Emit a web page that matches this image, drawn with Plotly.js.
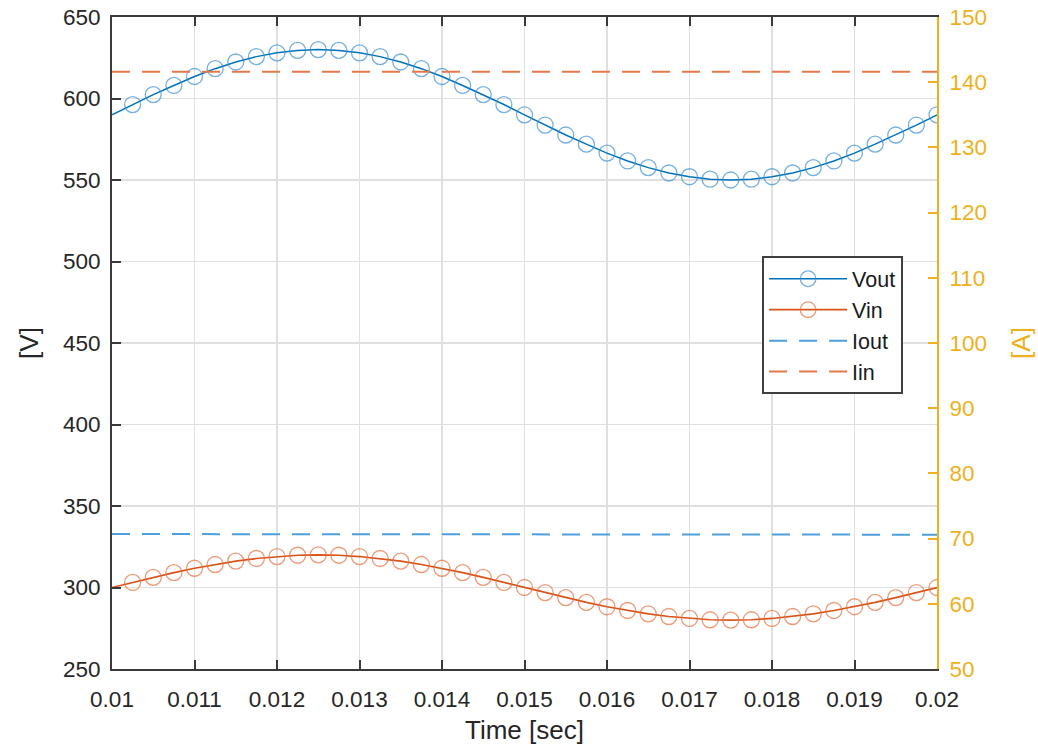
<!DOCTYPE html>
<html>
<head>
<meta charset="utf-8">
<script src="https://cdn.plot.ly/plotly-3.0.1.min.js"></script>
<style>html,body{margin:0;padding:0;background:#fff;}#chart{width:1038px;height:752px;}</style>
</head>
<body>
<div id="chart"></div>
<script>
// Time samples [sec]
var time = [0.01, 0.01025, 0.0105, 0.01075, 0.011, 0.01125, 0.0115, 0.01175, 0.012, 0.01225,
            0.0125, 0.01275, 0.013, 0.01325, 0.0135, 0.01375, 0.014, 0.01425, 0.0145, 0.01475,
            0.015, 0.01525, 0.0155, 0.01575, 0.016, 0.01625, 0.0165, 0.01675, 0.017, 0.01725,
            0.0175, 0.01775, 0.018, 0.01825, 0.0185, 0.01875, 0.019, 0.01925, 0.0195, 0.01975, 0.02];
// Output voltage [V]
var vout = [590.0, 596.3, 602.4, 608.0, 613.5, 618.3, 622.4, 625.7, 628.0, 629.5,
            630.0, 629.5, 628.0, 625.7, 622.4, 618.3, 613.5, 608.0, 602.4, 596.3,
            590.0, 583.7, 577.6, 572.0, 566.5, 561.7, 557.6, 554.3, 552.0, 550.5,
            550.0, 550.5, 552.0, 554.3, 557.6, 561.7, 566.5, 572.0, 577.6, 583.7, 590.0];
// Input voltage [V]
var vin = [300.0, 303.1, 306.2, 309.1, 311.8, 314.1, 316.2, 317.8, 319.0, 319.8,
           320.0, 319.8, 319.0, 317.8, 316.2, 314.1, 311.8, 309.1, 306.2, 303.1,
           300.0, 296.9, 293.8, 290.9, 288.2, 285.9, 283.8, 282.2, 281.0, 280.2,
           280.0, 280.2, 281.0, 282.2, 283.8, 285.9, 288.2, 290.9, 293.8, 296.9, 300.0];
// Currents [A]
var timeI = [0.01, 0.0155, 0.02];
var iout = [70.7, 70.6, 70.6];
var iin = [141.6, 141.6, 141.6];

var xTicks = [0.01, 0.011, 0.012, 0.013, 0.014, 0.015, 0.016, 0.017, 0.018, 0.019, 0.02];
var xTickText = ["0.01", "0.011", "0.012", "0.013", "0.014", "0.015", "0.016", "0.017", "0.018", "0.019", "0.02"];

var cBlue = '#0072BD', cOrange = '#D95319', cGold = '#EDB120', cAxis = '#262626';
var FONT = '"Liberation Sans", Arial, Helvetica, sans-serif';

// hide the marker on the first sample (line starts there without a marker)
function markerSizes(n) { var s = []; for (var i = 0; i < n; i++) s.push(i === 0 ? 0 : 16); return s; }

var traces = [
  {x: time, y: vout, name: 'Vout', type: 'scatter', mode: 'lines+markers', yaxis: 'y',
   line: {color: cBlue, width: 1.5},
   marker: {symbol: 'circle-open', size: markerSizes(time.length), color: '#3b8fd2', line: {width: 1.3, color: '#3b8fd2'}}},
  {x: time, y: vin, name: 'Vin', type: 'scatter', mode: 'lines+markers', yaxis: 'y',
   line: {color: cOrange, width: 1.7},
   marker: {symbol: 'circle-open', size: markerSizes(time.length), color: '#e2703f', line: {width: 1.3, color: '#e2703f'}}},
  {x: timeI, y: iout, name: 'Iout', type: 'scatter', mode: 'lines', yaxis: 'y2',
   line: {color: '#4c9fdc', width: 2, dash: '18px,12px'}},
  {x: timeI, y: iin, name: 'Iin', type: 'scatter', mode: 'lines', yaxis: 'y2',
   line: {color: '#e5784a', width: 2, dash: '18px,12px'}}
];

var layout = {
  width: 1038, height: 752,
  margin: {l: 112, r: 101, t: 17, b: 83, pad: 0},
  paper_bgcolor: '#ffffff', plot_bgcolor: '#ffffff',
  font: {family: FONT, size: 23, color: cAxis},
  showlegend: true,
  legend: {x: 0.788, y: 0.633, xanchor: 'left', yanchor: 'top',
           bgcolor: '#ffffff', bordercolor: '#404040', borderwidth: 2,
           font: {family: FONT, size: 21.5, color: '#1a1a1a'},
           itemwidth: 78, tracegroupgap: 0},
  xaxis: {range: [0.01, 0.02], tickvals: xTicks, ticktext: xTickText,
          showgrid: true, gridcolor: '#e0e0e0', gridwidth: 1.5,
          zeroline: false, showline: true, linecolor: '#3a3a3a', linewidth: 2,
          mirror: 'ticks', ticks: 'inside', ticklen: 9, tickwidth: 2, tickcolor: '#3a3a3a',
          ticklabelstandoff: 9,
          tickfont: {family: FONT, size: 22.5, color: cAxis},
          title: {text: 'Time [sec]', font: {family: FONT, size: 26, color: cAxis}, standoff: 10}},
  yaxis: {range: [250, 650], dtick: 50, tick0: 250,
          showgrid: true, gridcolor: '#e0e0e0', gridwidth: 1.5,
          zeroline: false, showline: true, linecolor: '#3a3a3a', linewidth: 2,
          ticks: 'inside', ticklen: 9, tickwidth: 2, tickcolor: '#3a3a3a',
          ticklabelstandoff: 5,
          tickfont: {family: FONT, size: 22.5, color: cAxis},
          title: {text: '[V]', font: {family: FONT, size: 26, color: cAxis}, standoff: 17}},
  yaxis2: {range: [50, 150], dtick: 10, tick0: 50, overlaying: 'y', side: 'right',
           showgrid: false, zeroline: false, showline: true, linecolor: cGold, linewidth: 2,
           ticks: 'inside', ticklen: 9, tickwidth: 2, tickcolor: cGold,
           ticklabelstandoff: 6,
           tickfont: {family: FONT, size: 22.5, color: cGold},
           title: {text: '[A]', font: {family: FONT, size: 26, color: cGold}, standoff: 26}}
};

Plotly.newPlot('chart', traces, layout, {displayModeBar: false, staticPlot: true});
</script>
</body>
</html>
